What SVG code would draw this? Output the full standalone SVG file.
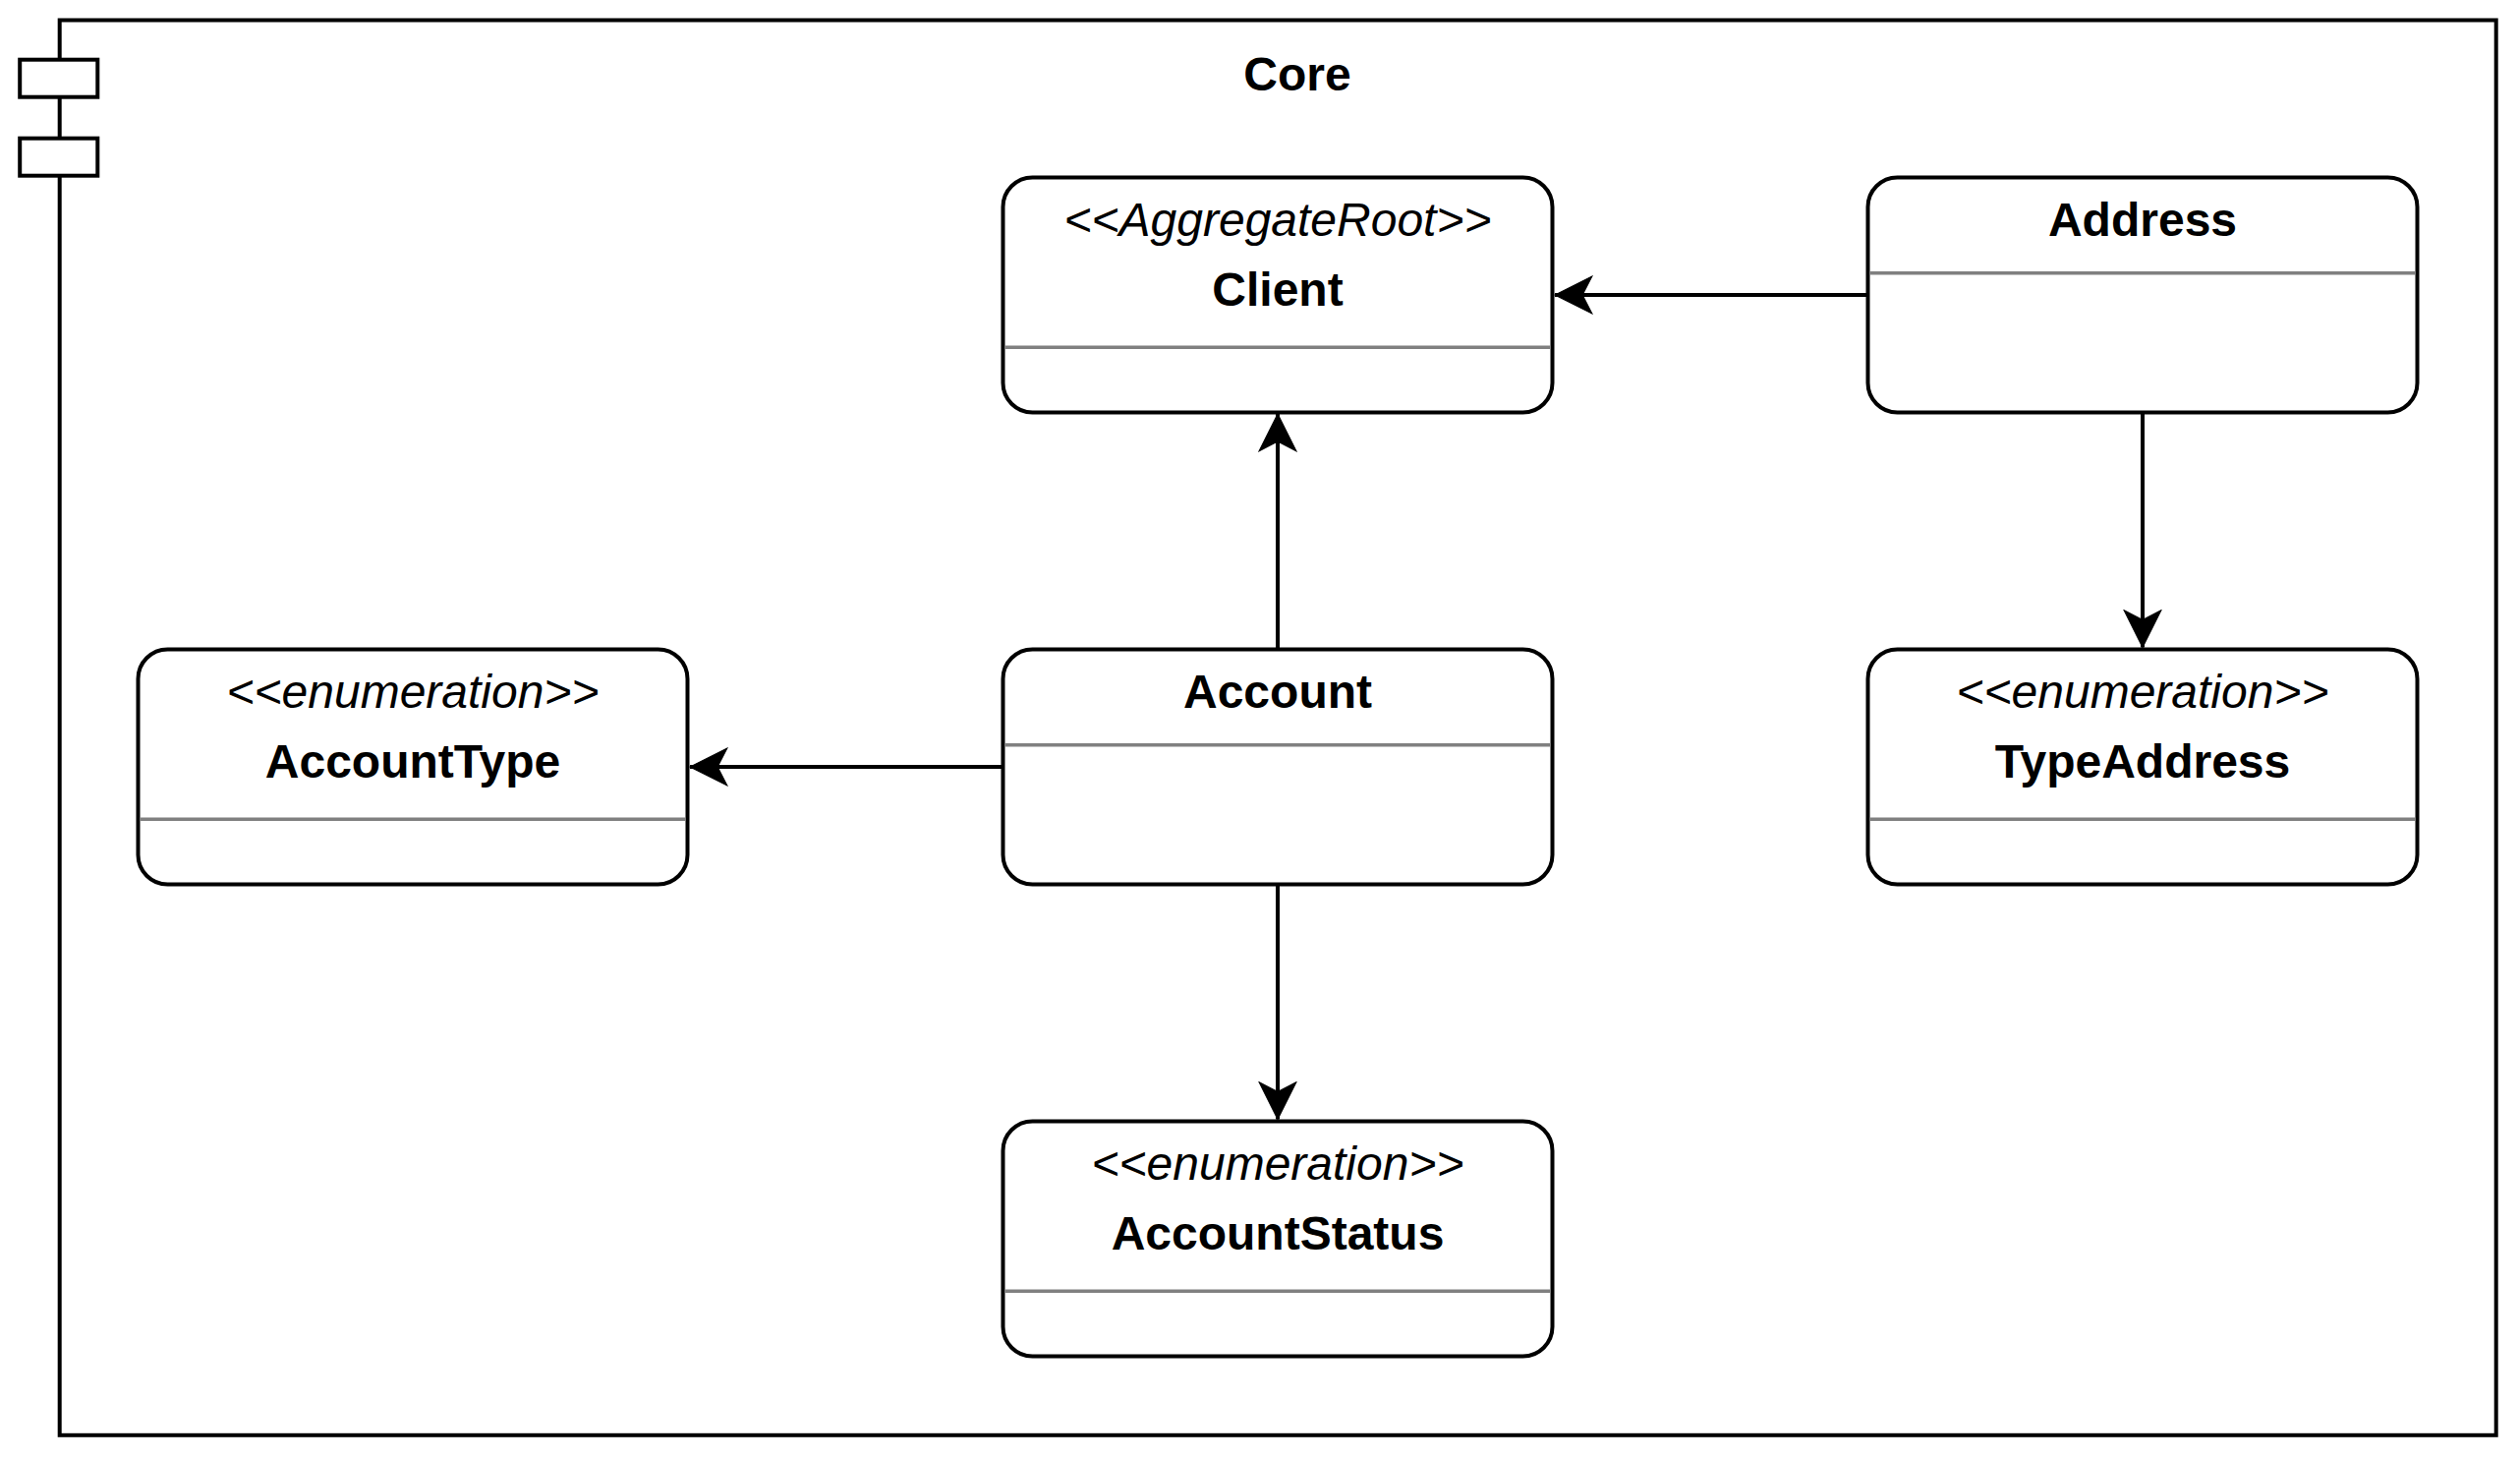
<svg xmlns="http://www.w3.org/2000/svg" width="2564" height="1484" viewBox="0 0 2564 1484">
  <style>
    .frame { fill: #ffffff; stroke: #000000; stroke-width: 4; }
    .box { fill: #ffffff; stroke: #000000; stroke-width: 4; }
    .div { stroke: #808080; stroke-width: 3.5; }
    .conn { fill: none; stroke: #000000; stroke-width: 4; }
    .title { font-family: "Liberation Sans", Arial, sans-serif; font-size: 48px; font-weight: bold; text-anchor: middle; fill: #000; }
    .stereo { font-family: "Liberation Sans", Arial, sans-serif; font-size: 48px; font-style: italic; text-anchor: middle; fill: #000; }
    .name { font-family: "Liberation Sans", Arial, sans-serif; font-size: 48px; font-weight: bold; text-anchor: middle; fill: #000; }
  </style>
  <defs>
    <marker id="arrow" markerUnits="userSpaceOnUse" markerWidth="40" markerHeight="40" viewBox="-36 -18 37 36" refX="0" refY="0" orient="auto">
      <path d="M 0 0 L -35 -17.5 L -26 0 L -35 17.5 Z" fill="#000000" stroke="#000000" stroke-width="1"/>
    </marker>
  </defs>
  <rect width="2564" height="1484" fill="#ffffff"/>

  <g id="core">
    <rect class="frame" x="60.7" y="20.5" width="2479" height="1439.3"/>
    <rect class="frame" x="20.2" y="60.7" width="79.1" height="38"/>
    <rect class="frame" x="20.2" y="140.7" width="79.1" height="38"/>
    <text class="title" x="1320" y="92">Core</text>
  </g>

  <g id="connectors">
    <line class="conn" x1="1900" y1="300" x2="1582" y2="300" marker-end="url(#arrow)"/>
    <line class="conn" x1="1300" y1="660.5" x2="1300" y2="421" marker-end="url(#arrow)"/>
    <line class="conn" x1="1020.5" y1="780" x2="702" y2="780" marker-end="url(#arrow)"/>
    <line class="conn" x1="1300" y1="899" x2="1300" y2="1138.5" marker-end="url(#arrow)"/>
    <line class="conn" x1="2180" y1="419" x2="2180" y2="658.5" marker-end="url(#arrow)"/>
  </g>

  <g id="client">
    <rect class="box" x="1020.5" y="180.5" width="559" height="239" rx="30" ry="30"/>
    <line class="div" x1="1022.5" y1="353.3" x2="1577.5" y2="353.3"/>
    <text class="stereo" x="1300" y="240">&lt;&lt;AggregateRoot&gt;&gt;</text>
    <text class="name" x="1300" y="311">Client</text>
  </g>

  <g id="address">
    <rect class="box" x="1900.5" y="180.5" width="559" height="239" rx="30" ry="30"/>
    <line class="div" x1="1902.5" y1="277.7" x2="2457.5" y2="277.7"/>
    <text class="name" x="2180" y="240">Address</text>
  </g>

  <g id="accounttype">
    <rect class="box" x="140.5" y="660.5" width="559" height="239" rx="30" ry="30"/>
    <line class="div" x1="142.5" y1="833.3" x2="697.5" y2="833.3"/>
    <text class="stereo" x="420" y="720">&lt;&lt;enumeration&gt;&gt;</text>
    <text class="name" x="420" y="791">AccountType</text>
  </g>

  <g id="account">
    <rect class="box" x="1020.5" y="660.5" width="559" height="239" rx="30" ry="30"/>
    <line class="div" x1="1022.5" y1="757.7" x2="1577.5" y2="757.7"/>
    <text class="name" x="1300" y="720">Account</text>
  </g>

  <g id="typeaddress">
    <rect class="box" x="1900.5" y="660.5" width="559" height="239" rx="30" ry="30"/>
    <line class="div" x1="1902.5" y1="833.3" x2="2457.5" y2="833.3"/>
    <text class="stereo" x="2180" y="720">&lt;&lt;enumeration&gt;&gt;</text>
    <text class="name" x="2180" y="791">TypeAddress</text>
  </g>

  <g id="accountstatus">
    <rect class="box" x="1020.5" y="1140.5" width="559" height="239" rx="30" ry="30"/>
    <line class="div" x1="1022.5" y1="1313.3" x2="1577.5" y2="1313.3"/>
    <text class="stereo" x="1300" y="1200">&lt;&lt;enumeration&gt;&gt;</text>
    <text class="name" x="1300" y="1271">AccountStatus</text>
  </g>
</svg>
